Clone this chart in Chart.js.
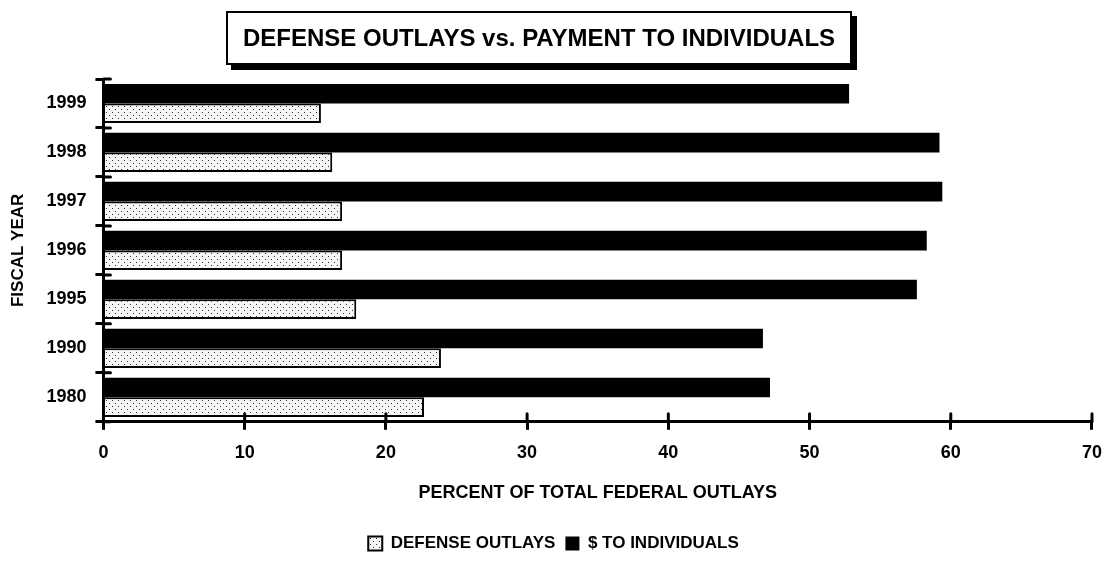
<!DOCTYPE html>
<html>
<head>
<meta charset="utf-8">
<script src="https://cdn.jsdelivr.net/npm/chart.js@4.4.1/dist/chart.umd.min.js"></script>
<style>
  html, body { margin: 0; padding: 0; background: #fff; }
  #wrap { position: relative; width: 1114px; height: 580px; }
  #title {
    position: absolute; left: 226px; top: 11px; width: 626px; height: 54px;
    box-sizing: border-box; border: 2px solid #000; box-shadow: 5px 5px 0 #000; background: #fff;
    font: bold 24px "Liberation Sans", Arial, sans-serif; color: #000;
    display: flex; align-items: center; justify-content: center;
  }
  canvas { position: absolute; left: 0; top: 0; }
</style>
</head>
<body>
<div id="wrap">
  <canvas id="c" width="1114" height="580"></canvas>
  <div id="title">DEFENSE OUTLAYS vs. PAYMENT TO INDIVIDUALS</div>
</div>
<script>
// values (% of total federal outlays)
const YEARS = ["1999", "1998", "1997", "1996", "1995", "1990", "1980"]
const DEFENSE = [15.4, 16.2, 16.9, 16.9, 17.9, 23.9, 22.7]
const INDIVIDUALS = [52.8, 59.2, 59.4, 58.3, 57.6, 46.7, 47.2]
const X_MIN = 0
const X_MAX = 70
const X_STEP = 10

const INK = "#000"
const FONT = "'Liberation Sans', Arial, sans-serif"

// dotted fill for the defense bars
function dots() {
  const c = document.createElement("canvas")
  c.width = 6
  c.height = 6
  const g = c.getContext("2d")
  g.fillStyle = "#f6f6f6"
  g.fillRect(0, 0, 6, 6)
  g.fillStyle = "#333"
  g.fillRect(1, 1, 1, 1)
  g.fillRect(4, 4, 1, 1)
  return g.createPattern(c, "repeat")
}

// tick marks cross the axis line, so draw the inner half too
const crossTicks = {
  id: "crossTicks",
  afterDraw(chart) {
    const { ctx, scales: { x, y } } = chart
    ctx.save()
    ctx.strokeStyle = INK
    ctx.lineWidth = 3
    ctx.lineCap = "round"
    x.ticks.forEach((t, i) => {
      const px = x.getPixelForTick(i)
      ctx.beginPath()
      ctx.moveTo(px, x.top)
      ctx.lineTo(px, x.top - 8)
      ctx.stroke()
    })
    for (let i = 0; i <= YEARS.length; i++) {
      const py = y.getPixelForValue(i - 0.5)
      ctx.beginPath()
      ctx.moveTo(y.right, py)
      ctx.lineTo(y.right + 7, py)
      ctx.stroke()
    }
    ctx.restore()
  },
}

new Chart(document.getElementById("c"), {
  type: "bar",
  data: {
    labels: YEARS,
    datasets: [
      {
        label: "$ TO INDIVIDUALS",
        data: INDIVIDUALS,
        backgroundColor: INK,
        borderWidth: 0,
        categoryPercentage: 0.8,
        barPercentage: 1.0,
      },
      {
        label: "DEFENSE OUTLAYS",
        data: DEFENSE,
        backgroundColor: dots(),
        borderColor: INK,
        borderWidth: 2,
        categoryPercentage: 0.8,
        barPercentage: 1.0,
      },
    ],
  },
  options: {
    responsive: false,
    animation: false,
    indexAxis: "y",
    layout: { padding: { top: 79, right: 7, bottom: 18, left: 0 } },
    plugins: {
      tooltip: { enabled: false },
      title: { display: false },
      legend: {
        position: "bottom",
        reverse: true,
        labels: {
          color: INK,
          font: { family: FONT, size: 17, weight: "bold" },
          boxWidth: 14,
          boxHeight: 14,
          padding: 10,
        },
      },
    },
    scales: {
      x: {
        type: "linear",
        min: X_MIN,
        max: X_MAX,
        ticks: { stepSize: X_STEP, color: INK, padding: 12, font: { family: FONT, size: 18, weight: "bold" } },
        grid: { drawOnChartArea: false, drawTicks: true, tickLength: 8, lineWidth: 3, color: INK },
        border: { display: true, width: 3, color: INK },
        title: {
          display: true,
          text: "PERCENT OF TOTAL FEDERAL OUTLAYS",
          color: INK,
          font: { family: FONT, size: 18, weight: "bold" },
          padding: { top: 7, bottom: 21 },
        },
      },
      y: {
        ticks: { color: INK, padding: 9, font: { family: FONT, size: 18, weight: "bold" } },
        grid: { drawOnChartArea: false, drawTicks: true, tickLength: 8, lineWidth: 3, color: INK, offset: true },
        border: { display: true, width: 3, color: INK },
        title: {
          display: true,
          text: "FISCAL YEAR",
          color: INK,
          font: { family: FONT, size: 17, weight: "bold" },
          padding: { top: 8, bottom: 9 },
        },
      },
    },
  },
  plugins: [crossTicks],
})
</script>
</body>
</html>
